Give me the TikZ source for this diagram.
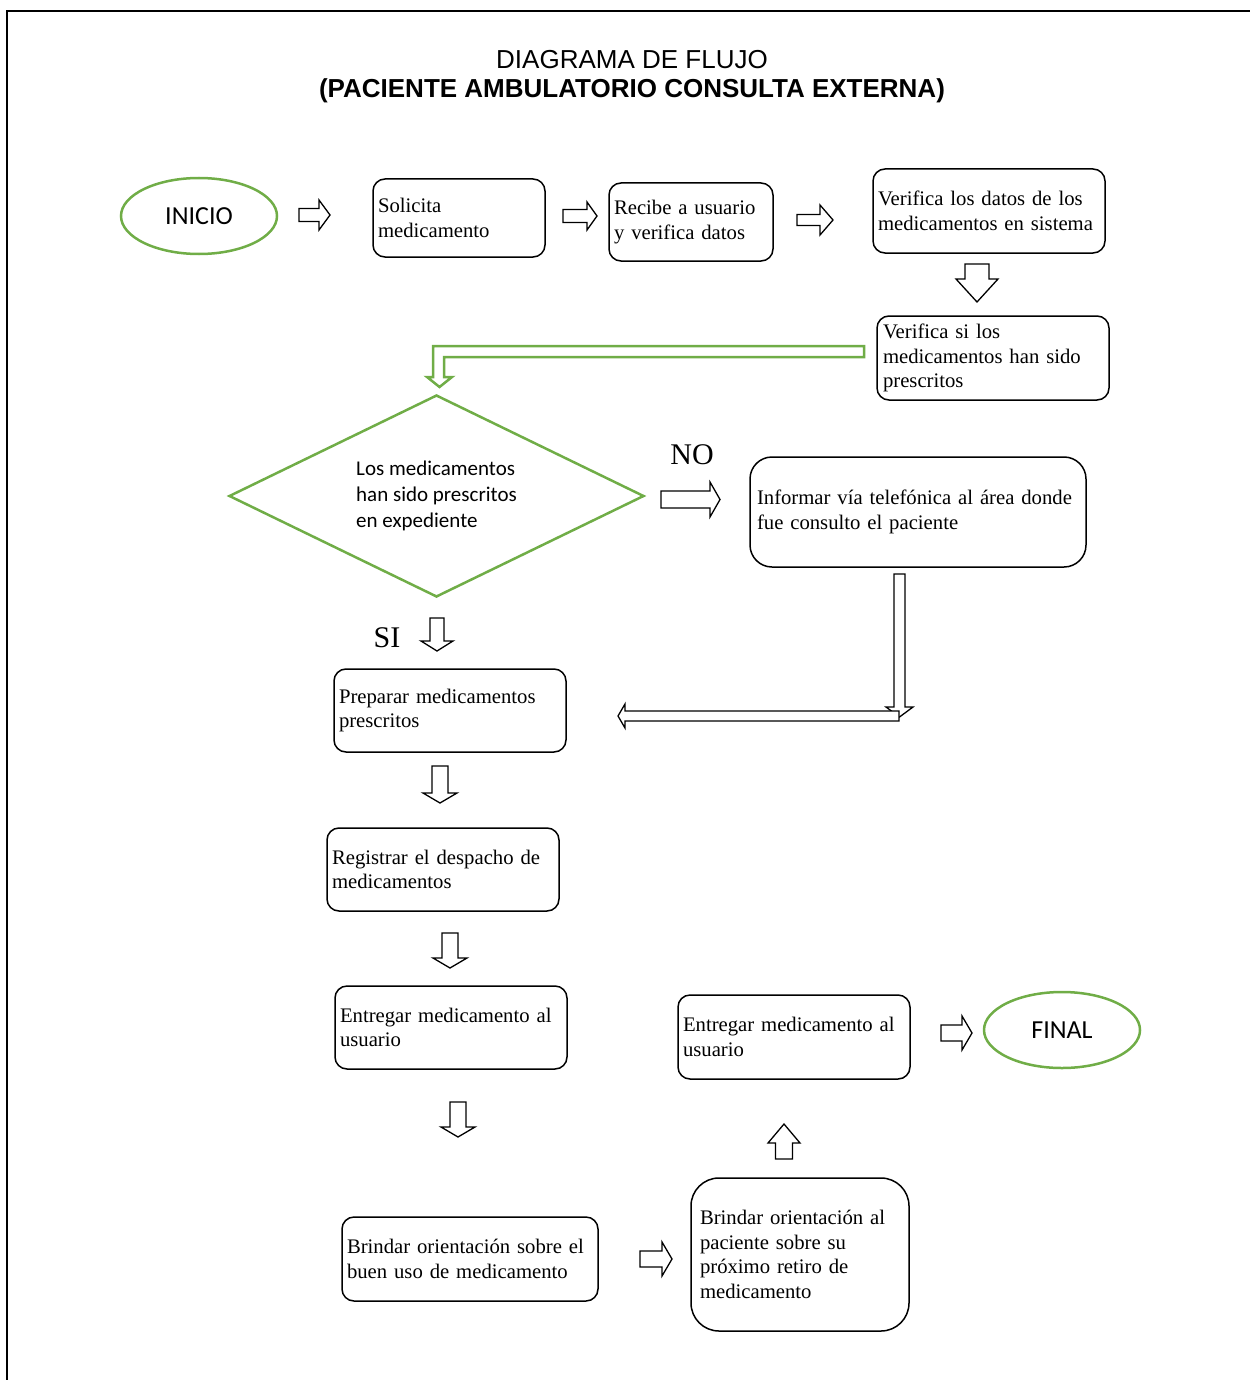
\documentclass[tikz,border=0pt]{standalone}
\usepackage{fontspec}
\setmainfont{Liberation Serif}
\newfontfamily\headfont{Liberation Sans}
\newfontfamily\calfont{Carlito}
\usetikzlibrary{shapes.geometric}

\definecolor{leaf}{RGB}{112,173,71}

\tikzset{
  stepbox/.style={draw, line width=1.5pt, rounded corners=12pt, inner xsep=5pt,
    inner ysep=0pt, align=left, minimum height=84pt,
    font=\fontsize{20.7}{24.5}\selectfont},
  terminal/.style={ellipse, draw=leaf, line width=2.5pt, minimum width=156pt,
    minimum height=76pt, inner sep=0pt, font=\calfont\fontsize{26}{30}\selectfont},
  decision/.style={diamond, shape aspect=2, draw=leaf, line width=2.5pt,
    minimum width=415pt, minimum height=202pt, inner sep=0pt, align=left,
    font=\calfont\fontsize{21}{26}\selectfont},
  blockarrow/.style={draw, line width=1.3pt, fill=white, line join=miter},
  branchlabel/.style={font=\fontsize{30}{34}\selectfont},
}

% hollow block arrow: tail x, tail y, direction, length, shaft half-width,
% head half-width, head length
\newcommand\blockarr[7]{%
  \draw[blockarrow, shift={(#1,#2)}, rotate=#3]
    (0,-#5) -- ({#4-#7},-#5) -- ({#4-#7},-#6) -- (#4,0) -- ({#4-#7},#6)
    -- ({#4-#7},#5) -- (0,#5) -- cycle;}

\begin{document}
\begin{tikzpicture}[x=1pt, y=-1pt]
\useasboundingbox (0,0) rectangle (1250,1380);

% page frame
\draw[line width=2pt] (7,1380) -- (7,11) -- (1250,11);

% heading
\node[font=\headfont\fontsize{26}{30}\selectfont] (title1) at (632,60) {DIAGRAMA DE FLUJO};
\node[font=\headfont\bfseries\fontsize{26}{30}\selectfont] (title2) at (632,91)
  {(PACIENTE AMBULATORIO CONSULTA EXTERNA)};

% top row
\node[terminal] (inicio) at (199,216) {INICIO};
\node[stepbox, text width=162pt, minimum height=78pt] (solicita) at (459,218)
  {Solicita\\medicamento};
\node[stepbox, text width=154pt, minimum height=78pt] (recibe) at (691,222)
  {Recibe a usuario\\y verifica datos};
\node[stepbox, text width=222pt] (datos) at (989,211)
  {Verifica los datos de los\\medicamentos en sistema};
\node[stepbox, text width=220pt, inner xsep=6pt] (prescritos) at (993,358)
  {Verifica si los\\medicamentos han sido\\prescritos};

\blockarr{299}{215}{0}{31}{6.5}{15}{11}
\blockarr{563}{216}{0}{34}{6.5}{14}{10}
\blockarr{797}{220}{0}{36}{5.5}{15}{13}
\blockarr{977}{264}{-90}{38}{12}{21}{23}

% green bent arrow into the decision
\draw[leaf, line width=2.5pt, fill=white, line join=miter]
  (864,346) -- (433,346) -- (433,377) -- (427,377) -- (439.5,387) -- (452,377)
  -- (444,377) -- (444,357) -- (864,357) -- cycle;

% decision
\node[decision] (decide) at (436.5,496)
  {Los medicamentos\\han sido prescritos\\en expediente};

\node[branchlabel] (nolabel) at (692,455) {NO};
\blockarr{661}{499.5}{0}{59}{8.5}{17.5}{10}
\node[stepbox, text width=322pt, inner xsep=7pt, minimum height=110pt,
  rounded corners=22pt] (informar) at (918,512)
  {Informar vía telefónica al área donde\\fue consulto el paciente};

% return path from the NO branch
\blockarr{899.5}{574}{-90}{143}{5.5}{13.5}{10}
\blockarr{899}{716}{180}{281}{5}{12}{7}

\node[branchlabel] (silabel) at (387,638) {SI};
\blockarr{437}{618}{-90}{33}{7}{16}{10}

% main column
\node[stepbox, text width=222pt, minimum height=83pt] (preparar) at (450,710.5)
  {Preparar medicamentos\\prescritos};
\blockarr{440}{766}{-90}{37}{8}{17}{10}
\node[stepbox, text width=222pt, minimum height=83pt] (registrar) at (443,869.5)
  {Registrar el despacho de\\medicamentos};
\blockarr{450}{933}{-90}{35}{8}{17}{10}
\node[stepbox, text width=222pt, minimum height=83pt] (entregarA) at (451,1027.5)
  {Entregar medicamento al\\usuario};
\blockarr{458}{1102}{-90}{35}{8}{17}{10}
\node[stepbox, text width=246pt] (buenuso) at (470,1259)
  {Brindar orientación sobre el\\buen uso de medicamento};
\blockarr{640}{1259}{0}{32}{8}{17}{10}
\node[stepbox, text width=200pt, inner xsep=9pt, minimum height=153pt,
  rounded corners=28pt] (orientacion) at (800,1254.5)
  {Brindar orientación al\\paciente sobre su\\próximo retiro de\\medicamento};
\blockarr{784}{1159}{90}{35}{8.5}{16}{19}
\node[stepbox, text width=222pt] (entregarB) at (794,1037)
  {Entregar medicamento al\\usuario};
\blockarr{941}{1033}{0}{31}{8}{17}{10}
\node[terminal] (final) at (1062,1030) {FINAL};

\end{tikzpicture}
\end{document}
